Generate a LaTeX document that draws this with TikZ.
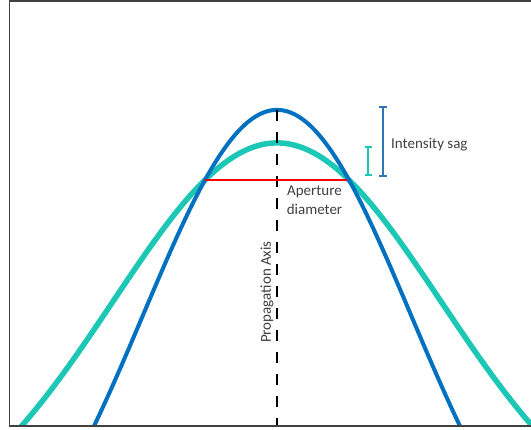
\documentclass[tikz,border=0pt]{standalone}
\usepackage{fontspec}
\setmainfont{Carlito}
\definecolor{beamblue}{HTML}{0070C0}
\definecolor{beamteal}{HTML}{1CC7B5}
\definecolor{sagblue}{HTML}{2E75B6}
\definecolor{framegray}{HTML}{404040}
\definecolor{textgray}{HTML}{404040}
\tikzset{
  frameline/.style={draw=framegray, line width=1.5pt},
  bluecurve/.style={draw=beamblue, line width=4pt},
  tealcurve/.style={draw=beamteal, line width=5.5pt},
  axisline/.style={draw=black, line width=2.5pt, dash pattern=on 11pt off 11pt},
  aperture/.style={draw=red, line width=2pt},
  sagbar/.style={line width=2pt},
  lbl/.style={text=textgray, font=\fontsize{15}{19.5}\selectfont, inner sep=0pt}
}
\begin{document}
\begin{tikzpicture}[x=1pt,y=-1pt]
\useasboundingbox (0,0) rectangle (531,430);
\fill[white] (0,0) rectangle (531,430);
\begin{scope}
\clip (9.5,1) rectangle (531,426);
\draw[tealcurve] plot[domain=0:531,samples=240,smooth] (\x,{426-(403*exp(-((\x-277)/100)^2/5.3832)-120)});
\draw[bluecurve] plot[domain=60:500,samples=240,smooth] (\x,{426-(521*exp(-((\x-277)/100)^2/3.5876)-205)});
\end{scope}
\coordinate (axtop) at (277,110);
\coordinate (axbot) at (277,426);
\draw[axisline] (axtop) -- (axbot);
\coordinate (apL) at (205,180);
\coordinate (apR) at (347,180);
\draw[aperture] (apL) -- (apR);
% frame
\coordinate (fTL) at (9.5,1);
\coordinate (fTR) at (531,1);
\coordinate (fBL) at (9.5,426);
\coordinate (fBR) at (531,426);
\draw[frameline] (fTR) -- (fTL) -- (fBL) -- (fBR);
% intensity sag bars
\coordinate (sbT) at (383,107);
\coordinate (sbB) at (383,176);
\coordinate (stT) at (368,147);
\coordinate (stB) at (368,175);
\draw[sagbar, draw=sagblue] (sbT) -- (sbB);
\draw[sagbar, draw=sagblue] ([xshift=-4pt]sbT) -- ([xshift=4pt]sbT);
\draw[sagbar, draw=sagblue] ([xshift=-4pt]sbB) -- ([xshift=4pt]sbB);
\draw[sagbar, draw=beamteal] (stT) -- (stB);
\draw[sagbar, draw=beamteal] ([xshift=-3.5pt]stT) -- ([xshift=3.5pt]stT);
\draw[sagbar, draw=beamteal] ([xshift=-3.5pt]stB) -- ([xshift=3.5pt]stB);
% labels
\node[lbl, anchor=west] (sag) at (391,145) {Intensity sag};
\node[lbl, align=center] (apd) at (314.5,200) {Aperture\\diameter};
\node[lbl, rotate=90] (prop) at (267,292) {Propagation Axis};
\end{tikzpicture}
\end{document}
